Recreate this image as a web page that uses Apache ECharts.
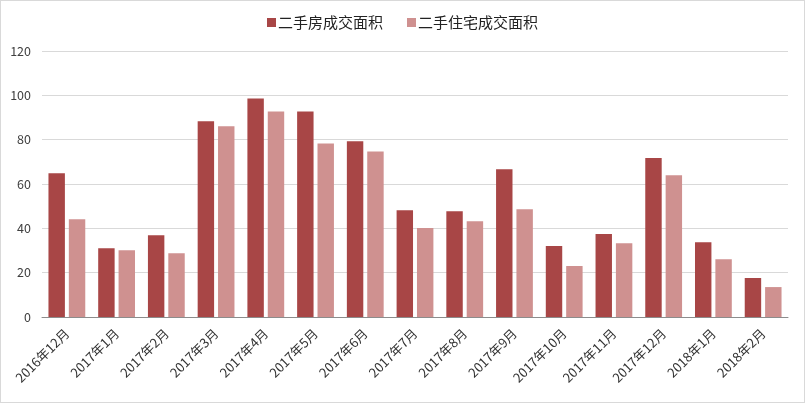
<!DOCTYPE html>
<html><head><meta charset="utf-8">
<script src="https://cdn.jsdelivr.net/npm/echarts@6/dist/echarts.min.js"></script>
<style>html,body{margin:0;padding:0;background:#fff}#c{width:805px;height:403px;box-sizing:border-box;border:1px solid #D9D9D9}</style>
</head><body><div id="c"></div>
<script>
const categories = ['2016年12月','2017年1月','2017年2月','2017年3月','2017年4月','2017年5月','2017年6月','2017年7月','2017年8月','2017年9月','2017年10月','2017年11月','2017年12月','2018年1月','2018年2月'];
const seriesNames = ['二手房成交面积','二手住宅成交面积'];
const secondHand = [64.8,31.0,36.9,88.3,98.6,92.7,79.3,48.2,47.7,66.6,32.0,37.4,71.7,33.7,17.6];
const secondHandResidential = [44.1,30.1,28.8,86.0,92.7,78.3,74.7,40.1,43.2,48.6,23.0,33.3,63.9,26.1,13.5];
const yTicks = {min:0,max:120,interval:20};

const font = '"Noto Sans CJK SC","Noto Sans",sans-serif';
const chart = echarts.init(document.getElementById('c'), null, {renderer:'canvas'});
chart.setOption({
  animation:false,
  textStyle:{fontFamily:font},
  legend:{
    top:9, left:'center', itemWidth:9, itemHeight:9, itemGap:24,
    icon:'rect',
    textStyle:{fontSize:15, color:'#222', fontFamily:font, padding:[0,0,0,-3]},
    data:seriesNames
  },
  grid:{left:41, right:16, top:50, bottom:85, containLabel:false},
  xAxis:{
    type:'category', data:categories,
    axisLine:{lineStyle:{color:'#8C8C8C', width:1}},
    axisTick:{show:false},
    axisLabel:{rotate:45, interval:0, fontSize:13, color:'#333', margin:14, fontFamily:font},
  },
  yAxis:{
    type:'value', min:yTicks.min, max:yTicks.max, interval:yTicks.interval,
    axisLine:{show:false}, axisTick:{show:false},
    axisLabel:{fontSize:12.5, color:'#404040', margin:11, fontFamily:font},
    splitLine:{lineStyle:{color:'#D9D9D9', width:1}}
  },
  series:[
    {name:seriesNames[0], type:'bar', data:secondHand, itemStyle:{color:'#A84646'}, barGap:'24%', barCategoryGap:'26%'},
    {name:seriesNames[1], type:'bar', data:secondHandResidential, itemStyle:{color:'#CF9190'}}
  ]
});
</script></body></html>
